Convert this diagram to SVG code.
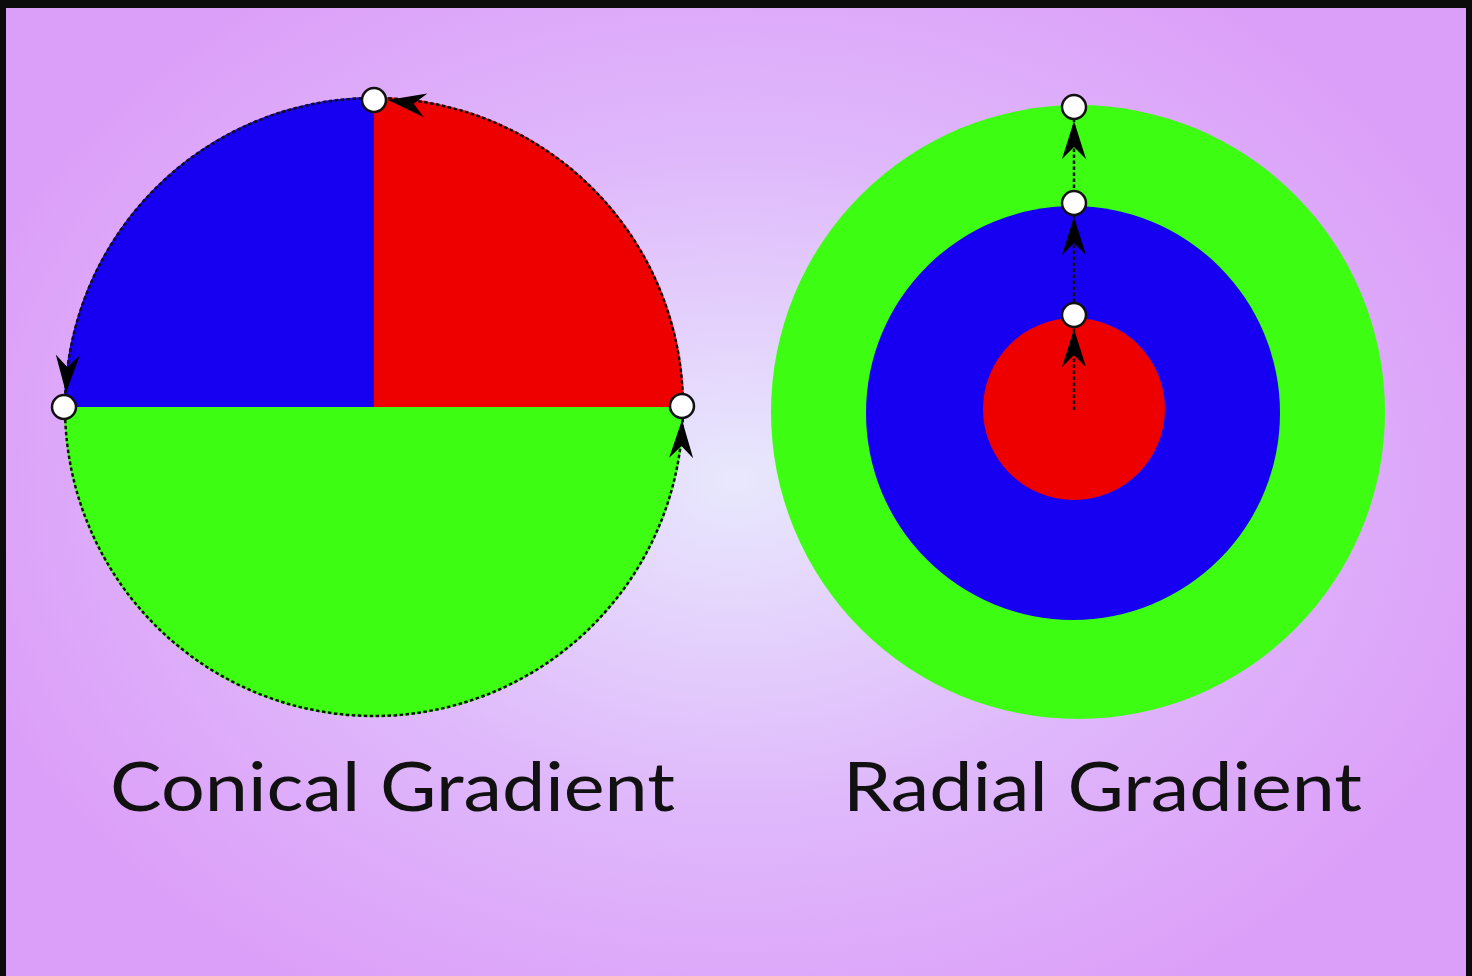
<svg xmlns="http://www.w3.org/2000/svg" width="1472" height="976" viewBox="0 0 1472 976">
<defs>
<radialGradient id="bg" cx="736" cy="480" r="800" gradientUnits="userSpaceOnUse" gradientTransform="translate(736 480) scale(1 0.75) translate(-736 -480)">
<stop offset="0" stop-color="#e8e8fd"/>
<stop offset="0.55" stop-color="#dfb8fb"/>
<stop offset="1" stop-color="#dc9ff9"/>
</radialGradient>
<marker id="ah" viewBox="0 0 38 24" refX="38" refY="12" markerWidth="38" markerHeight="24" markerUnits="userSpaceOnUse" orient="auto" overflow="visible">
<path d="M0,0 L38,12 L0,24 L12,12 Z" fill="#000"/>
</marker>
<style>
.dot{fill:none;stroke:#111;stroke-width:2.5;stroke-dasharray:3.5 2.5}
.h{fill:#fff;stroke:#111;stroke-width:2.5}
.lbl{font-family:Lato,"Noto Sans",sans-serif;font-size:68px;fill:#111}
.red{fill:#ef0000}.blue{fill:#1700f2}.green{fill:#3dfd12}
</style>
</defs>
<rect width="1472" height="976" fill="#0c0c0c"/>
<rect x="6" y="8" width="1460" height="968" fill="url(#bg)"/>
<g id="conical">
<path class="green" d="M64,407 A310,310 0 0 0 684,407 Z"/>
<path class="blue" d="M374,407 L64,407 A310,310 0 0 1 374,97 Z"/>
<path class="red" d="M374,407 L374,97 A310,310 0 0 1 684,407 Z"/>
<circle class="dot" cx="374" cy="407" r="309"/>
</g>
<g id="radial">
<circle class="green" cx="1078" cy="412" r="307"/>
<circle class="blue" cx="1073" cy="413" r="207"/>
<circle class="red" cx="1074" cy="409" r="91"/>
</g>
<g id="connectors">
<path class="dot" d="M1074,410 L1074,110"/>
<path d="M430,106 L388,100" fill="none" stroke="none" marker-end="url(#ah)"/>
<path d="M68,350 L66,393" fill="none" stroke="none" marker-end="url(#ah)"/>
<path d="M681,465 L682,420" fill="none" stroke="none" marker-end="url(#ah)"/>
<path d="M1074,380 L1074,329" fill="none" stroke="none" marker-end="url(#ah)"/>
<path d="M1074,270 L1074,217" fill="none" stroke="none" marker-end="url(#ah)"/>
<path d="M1074,175 L1074,121" fill="none" stroke="none" marker-end="url(#ah)"/>
</g>
<g id="handles">
<circle class="h" cx="374" cy="100" r="12"/>
<circle class="h" cx="64" cy="407" r="12"/>
<circle class="h" cx="682" cy="406" r="12"/>
<circle class="h" cx="1074" cy="107" r="12"/>
<circle class="h" cx="1074" cy="203" r="12"/>
<circle class="h" cx="1074" cy="315" r="12"/>
</g>
<g id="labels">
<text class="lbl" x="110" y="811" textLength="565" lengthAdjust="spacingAndGlyphs">Conical Gradient</text>
<text class="lbl" x="843" y="811" textLength="519" lengthAdjust="spacingAndGlyphs">Radial Gradient</text>
</g>
</svg>
